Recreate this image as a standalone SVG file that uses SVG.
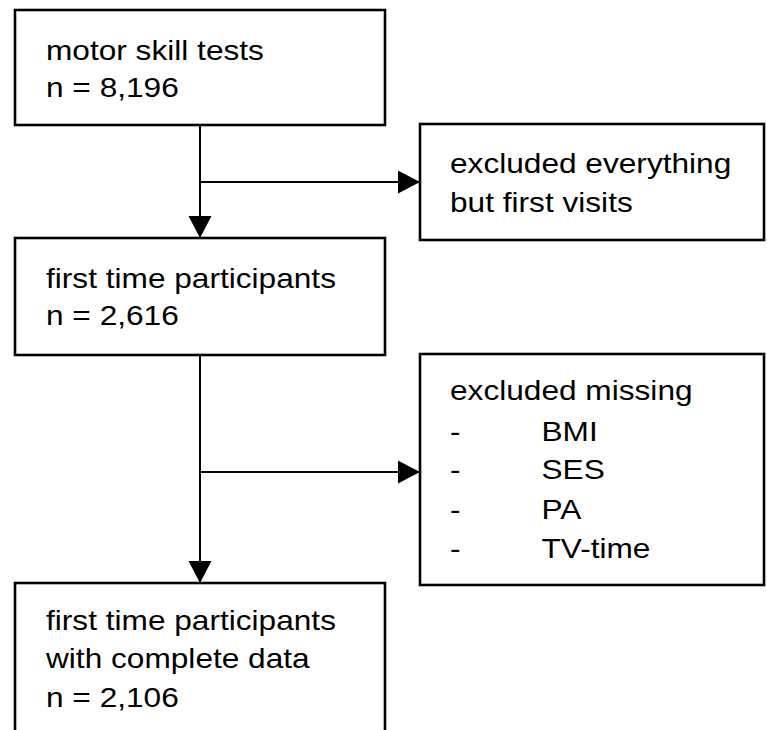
<svg xmlns="http://www.w3.org/2000/svg" width="767" height="730" viewBox="0 0 767 730">
<style>
.box{fill:#fff;stroke:#000;stroke-width:2.6}
.ln{fill:none;stroke:#000;stroke-width:2}
.t{font-family:"Liberation Sans",Arial,sans-serif;font-size:28px;fill:#000}
</style>
<defs>
<marker id="ah" markerUnits="userSpaceOnUse" markerWidth="24" markerHeight="24" refX="22" refY="11.5" orient="auto">
<path d="M0,0 L22,11.5 L0,23 Z" fill="#000"/>
</marker>
</defs>
<rect width="767" height="730" fill="#fff"/>
<g id="connectors">
<line class="ln" x1="200" y1="125" x2="200" y2="238" marker-end="url(#ah)"/>
<line class="ln" x1="200" y1="182" x2="420" y2="182" marker-end="url(#ah)"/>
<line class="ln" x1="200" y1="355" x2="200" y2="583" marker-end="url(#ah)"/>
<line class="ln" x1="200" y1="472" x2="420" y2="472" marker-end="url(#ah)"/>
</g>
<g id="n1">
<rect class="box" x="15" y="10" width="370" height="115"/>
<g transform="translate(46,0) scale(1.13,1)"><text class="t" x="0" y="60">motor skill tests</text><text class="t" x="0" y="97">n = 8,196</text></g>
</g>
<g id="n2">
<rect class="box" x="420" y="124" width="344" height="116"/>
<g transform="translate(450,0) scale(1.13,1)"><text class="t" x="0" y="173">excluded everything</text><text class="t" x="0" y="212">but first visits</text></g>
</g>
<g id="n3">
<rect class="box" x="15" y="238" width="370" height="117"/>
<g transform="translate(46,0) scale(1.13,1)"><text class="t" x="0" y="288">first time participants</text><text class="t" x="0" y="325">n = 2,616</text></g>
</g>
<g id="n4">
<rect class="box" x="420" y="354" width="344" height="231"/>
<g transform="translate(450,0) scale(1.13,1)"><text class="t" x="0" y="400">excluded missing</text>
<text class="t" x="0" y="441">-</text><text class="t" x="81" y="441">BMI</text>
<text class="t" x="0" y="479">-</text><text class="t" x="81" y="479">SES</text>
<text class="t" x="0" y="519">-</text><text class="t" x="81" y="519">PA</text>
<text class="t" x="0" y="558">-</text><text class="t" x="81" y="558">TV-time</text></g>
</g>
<g id="n5">
<rect class="box" x="15" y="583" width="370" height="160"/>
<g transform="translate(46,0) scale(1.13,1)"><text class="t" x="0" y="630">first time participants</text><text class="t" x="0" y="668">with complete data</text><text class="t" x="0" y="707">n = 2,106</text></g>
</g>
</svg>
